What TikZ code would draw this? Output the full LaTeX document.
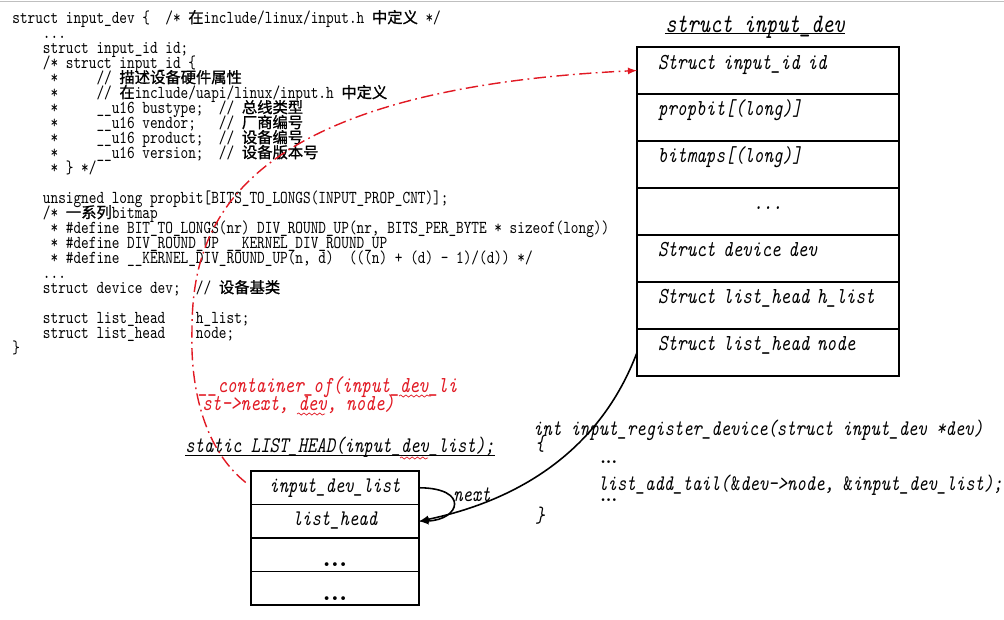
\documentclass[tikz,border=0pt]{standalone}
\usepackage{fontspec}
\setmonofont[Extension=.otf, ItalicFont=lmmono10-italic, FakeStretch=0.8]{lmmono10-regular}
\newfontfamily\cjk[Scale=0.84, FakeBold=1.2]{Noto Sans CJK SC}
\usetikzlibrary{positioning,decorations.pathmorphing}
\definecolor{cred}{RGB}{225,25,35}
\frenchspacing
\begin{document}
\begin{tikzpicture}[x=0.02cm, y=-0.02cm,
    code/.style={anchor=base west, inner sep=0, font=\fontsize{10.37}{12}\ttfamily},
    itl/.style={anchor=base west, inner sep=0, font=\fontsize{12.7}{15}\ttfamily\itshape},
    fld/.style={draw, line width=1pt, outer sep=0, minimum width=5.24cm, minimum height=0.94cm, inner xsep=0.42cm, inner ysep=0,
        text width=4.4cm, align=left, text height=0.44cm, text depth=0.5cm, font=\fontsize{13}{15}\ttfamily\itshape},
    lbox/.style={draw, line width=1pt, outer sep=0, minimum width=3.36cm, minimum height=0.67cm, inner sep=0,
        text height=0.42cm, text depth=0.25cm, font=\fontsize{12.7}{15}\ttfamily\itshape},
    bigdots/.style={lbox, text height=0.58cm, text depth=0.09cm, font=\fontsize{15}{15}\rmfamily\bfseries},
    redline/.style={cred, line width=0.8pt, dash pattern=on 7pt off 2.5pt on 1pt off 2.5pt},
    squig/.style={cred, line width=0.4pt, decorate, decoration={snake, segment length=3pt, amplitude=0.6pt}},
    node distance=0pt]
\useasboundingbox (0,0) rectangle (1004,619);
\draw[black!25] (0,1) -- (1004,1);

% code on the left
\node[code] (l1) at (12,23) {struct input\_dev \{~~/* {\cjk 在}include/linux/input.h {\cjk 中定义} */};
\node[code] (l2) at (12,38) {~~~~...};
\node[code] (l3) at (12,53) {~~~~struct input\_id id;};
\node[code] (l4) at (12,68) {~~~~/* struct input\_id \{};
\node[code] (l5) at (12,83) {~~~~~*~~~~~// {\cjk 描述设备硬件属性}};
\node[code] (l6) at (12,98) {~~~~~*~~~~~// {\cjk 在}include/uapi/linux/input.h {\cjk 中定义}};
\node[code] (l7) at (12,113) {~~~~~*~~~~~\_\_u16 bustype;~~// {\cjk 总线类型}};
\node[code] (l8) at (12,128) {~~~~~*~~~~~\_\_u16 vendor;~~~// {\cjk 厂商编号}};
\node[code] (l9) at (12,143) {~~~~~*~~~~~\_\_u16 product;~~// {\cjk 设备编号}};
\node[code] (l10) at (12,158) {~~~~~*~~~~~\_\_u16 version;~~// {\cjk 设备版本号}};
\node[code] (l11) at (12,173) {~~~~~* \} */};
\node[code] (l13) at (12,203) {~~~~unsigned long propbit[BITS\_TO\_LONGS(INPUT\_PROP\_CNT)];};
\node[code] (l14) at (12,218) {~~~~/* {\cjk 一系列}bitmap};
\node[code] (l15) at (12,233) {~~~~~* \#define BIT\_TO\_LONGS(nr) DIV\_ROUND\_UP(nr, BITS\_PER\_BYTE * sizeof(long))};
\node[code] (l16) at (12,248) {~~~~~* \#define DIV\_ROUND\_UP \_\_KERNEL\_DIV\_ROUND\_UP};
\node[code] (l17) at (12,263) {~~~~~* \#define \_\_KERNEL\_DIV\_ROUND\_UP(n, d)~~(((n) + (d) - 1)/(d)) */};
\node[code] (l18) at (12,278) {~~~~...};
\node[code] (l19) at (12,293) {~~~~struct device dev;~~// {\cjk 设备基类}};
\node[code] (l21) at (12,323) {~~~~struct list\_head~~~~h\_list;};
\node[code] (l22) at (12,338) {~~~~struct list\_head~~~~node;};
\node[code] (l23) at (12,353) {\}};

% struct input_dev
\node[inner sep=0, anchor=base, font=\fontsize{15.2}{17}\ttfamily\itshape] (ttl) at (755,32) {struct input\_dev};
\draw[line width=0.7pt] ([yshift=-1pt]ttl.base west) -- ([yshift=-1pt]ttl.base east);
\node[fld] (f1) at (768,70.5) {Struct input\_id id};
\node[fld, below=of f1] (f2) {propbit[(long)]};
\node[fld, below=of f2] (f3) {bitmaps[(long)]};
\node[fld, below=of f3, align=center] (f4) {...};
\node[fld, below=of f4] (f5) {Struct device dev};
\node[fld, below=of f5] (f6) {Struct list\_head h\_list};
\node[fld, below=of f6] (f7) {Struct list\_head node};

% input_dev_list
\node[itl] (lst) at (185,452) {static LIST\_HEAD(input\_dev\_list);};
\draw[line width=0.7pt] ([yshift=-2pt]lst.base west) -- ([yshift=-2pt]lst.base east);
\node[lbox] (idl) at (335,487.75) {input\_dev\_list};
\node[lbox, below=of idl] (lh) {list\_head};
\node[bigdots, below=of lh] (d1) {...};
\node[bigdots, below=of d1] (d2) {...};

% container_of
\node[itl, cred, font=\fontsize{13}{15}\ttfamily\itshape] (co1) at (198,392) {\_\_container\_of(input\_dev\_li};
\node[itl, cred, font=\fontsize{13}{15}\ttfamily\itshape] (co2) at (202,410) {st->next, dev, node)};
\draw[squig] (399,396) -- (431,396);
\draw[squig] (297,414) -- (325,414);
\draw[squig] (400,458) -- (428,458);

% input_register_device
\node[itl] (fn1) at (533,435) {int input\_register\_device(struct input\_dev *dev)};
\node[itl] (fn2) at (535,450) {\{};
\node[itl, font=\fontsize{10}{12}\rmfamily\bfseries] (fn3) at (600,463) {...};
\node[itl] (fn4) at (598,490) {list\_add\_tail(\textup{\&}dev->node, \textup{\&}input\_dev\_list);};
\node[itl, font=\fontsize{10}{12}\rmfamily\bfseries] (fn5) at (600,501) {...};
\node[itl] (fn6) at (535,522) {\}};

% arrows
\draw[redline, -latex] ([xshift=-3pt, yshift=3pt]idl.west) .. controls (205,450) and (190,390) .. (192,330)
    .. controls (192,230) and (230,90) .. (f1.west);
\draw[line width=0.9pt, -latex] (idl.east) .. controls (470,488) and (460,520) .. (lh.east);
\node[font=\fontsize{12.7}{15}\ttfamily\itshape, inner sep=0] (nx) at (472,495) {next};
\draw[line width=0.9pt, -latex] (f7.west) .. controls (600,450) and (520,500) .. (lh.east);
\end{tikzpicture}
\end{document}
